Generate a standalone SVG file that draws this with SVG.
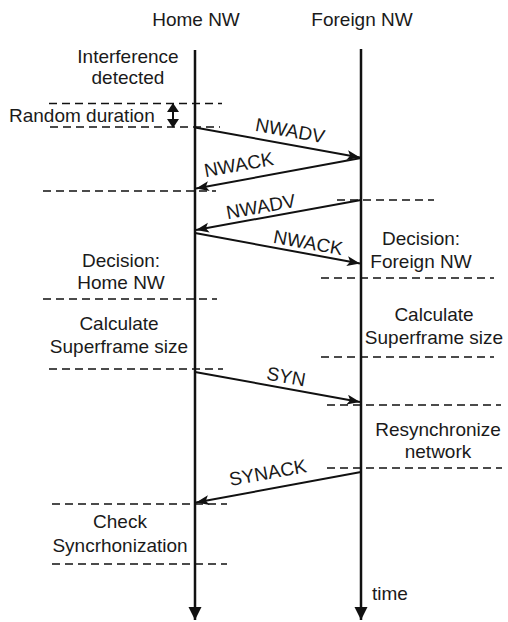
<svg xmlns="http://www.w3.org/2000/svg" width="508" height="622" viewBox="0 0 508 622">
<style>
text{font-family:"Liberation Sans",Arial,sans-serif;font-size:19px;fill:#1a1a1a}
.m{text-anchor:middle}
.life{stroke:#111;stroke-width:2.5;fill:none}
.msg{stroke:#111;stroke-width:2;fill:none;marker-end:url(#ah)}
.dash{stroke:#111;stroke-width:1.6;stroke-dasharray:8 5;fill:none}
</style>
<defs>
<marker id="ah" markerUnits="userSpaceOnUse" markerWidth="14" markerHeight="12" refX="13" refY="5" orient="auto">
<path d="M0,0 L13,5 L0,10 L3,5 Z" fill="#111"/>
</marker>
<marker id="big" markerUnits="userSpaceOnUse" markerWidth="16" markerHeight="14" refX="13" refY="6.5" orient="auto">
<path d="M0,0 L13,6.5 L0,13 Z" fill="#111"/>
</marker>
<marker id="sm" markerUnits="userSpaceOnUse" markerWidth="12" markerHeight="12" refX="8" refY="6" orient="auto">
<path d="M0,0 L9,6 L0,12 Z" fill="#111"/>
</marker>
</defs>
<g id="home">
<text class="m" x="196" y="26">Home NW</text>
<line class="life" x1="195" y1="50" x2="195" y2="620" marker-end="url(#big)"/>
</g>
<g id="foreign">
<text class="m" x="362" y="26">Foreign NW</text>
<line class="life" x1="361" y1="49" x2="361" y2="620" marker-end="url(#big)"/>
<text x="372" y="600">time</text>
</g>
<g id="labels-home">
<text class="m" x="128" y="63">Interference</text>
<text class="m" x="128" y="84">detected</text>
<text x="9" y="122">Random duration</text>
<text class="m" x="121" y="267">Decision:</text>
<text class="m" x="121" y="289">Home NW</text>
<text class="m" x="119" y="330">Calculate</text>
<text class="m" x="119" y="353">Superframe size</text>
<text class="m" x="120" y="528">Check</text>
<text class="m" x="120" y="552">Syncrhonization</text>
</g>
<g id="labels-foreign">
<text class="m" x="421" y="245">Decision:</text>
<text class="m" x="421" y="268">Foreign NW</text>
<text class="m" x="434" y="321">Calculate</text>
<text class="m" x="434" y="344">Superframe size</text>
<text class="m" x="438" y="436">Resynchronize</text>
<text class="m" x="438" y="458">network</text>
</g>
<g id="dashes">
<line class="dash" x1="49" y1="103.5" x2="222" y2="103.5"/>
<line class="dash" x1="50" y1="127" x2="220" y2="127"/>
<line class="dash" x1="43" y1="191" x2="216" y2="191"/>
<line class="dash" x1="337" y1="200" x2="434" y2="200"/>
<line class="dash" x1="321" y1="278" x2="494" y2="278"/>
<line class="dash" x1="43" y1="299" x2="217" y2="299"/>
<line class="dash" x1="321" y1="357" x2="494" y2="357"/>
<line class="dash" x1="49" y1="369" x2="223" y2="369"/>
<line class="dash" x1="327" y1="405" x2="501" y2="405"/>
<line class="dash" x1="327" y1="468" x2="502" y2="468"/>
<line class="dash" x1="52" y1="504" x2="227" y2="504"/>
<line class="dash" x1="52" y1="564" x2="227" y2="564"/>
</g>
<g id="connectors">
<line x1="173" y1="111" x2="173" y2="120" stroke="#111" stroke-width="2"/>
<line x1="173" y1="112" x2="173" y2="104" stroke="#111" stroke-width="2" marker-end="url(#sm)"/>
<line x1="173" y1="119" x2="173" y2="127" stroke="#111" stroke-width="2" marker-end="url(#sm)"/>
<line class="msg" x1="195" y1="127.5" x2="360" y2="157.5"/>
<line class="msg" x1="361" y1="158" x2="196" y2="188.5"/>
<line class="msg" x1="361" y1="200" x2="196" y2="230"/>
<line class="msg" x1="195" y1="233" x2="360" y2="263.5"/>
<line class="msg" x1="195" y1="372" x2="360" y2="402"/>
<line class="msg" x1="361" y1="472" x2="196" y2="502.5"/>
</g>
<g id="msg-labels">
<text class="m" transform="translate(289,137) rotate(10.3)">NWADV</text>
<text class="m" transform="translate(240,171) rotate(-10.3)">NWACK</text>
<text class="m" transform="translate(262,213) rotate(-10.3)">NWADV</text>
<text class="m" transform="translate(307,249) rotate(10.3)">NWACK</text>
<text class="m" transform="translate(285,383) rotate(10.3)">SYN</text>
<text class="m" transform="translate(269,479) rotate(-10.3)">SYNACK</text>
</g>
</svg>
